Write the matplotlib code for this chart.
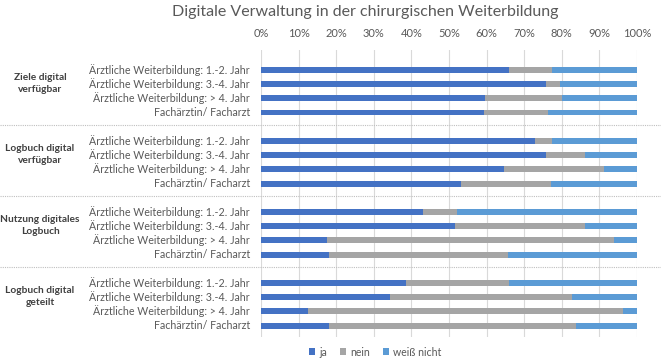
import matplotlib.pyplot as plt
import matplotlib.transforms as mtransforms
from matplotlib.patches import Patch

plt.rcParams['font.family'] = ['Lato', 'DejaVu Sans']

groups = ['Ziele digital\nverfügbar', 'Logbuch digital\nverfügbar',
          'Nutzung digitales\nLogbuch', 'Logbuch digital\ngeteilt']
rows = ['Ärztliche Weiterbildung: 1.-2. Jahr', 'Ärztliche Weiterbildung: 3.-4. Jahr',
        'Ärztliche Weiterbildung: > 4. Jahr', 'Fachärztin/ Facharzt']

# percent per group, one value per row
ja = [[66.0, 75.8, 59.6, 59.4],
      [72.9, 75.8, 64.5, 53.1],
      [43.2, 51.6, 17.6, 18.1],
      [38.6, 34.3, 12.4, 18.1]]
nein = [[11.3, 3.6, 20.4, 16.8],
        [4.4, 10.5, 26.7, 23.9],
        [9.0, 34.7, 76.2, 47.5],
        [27.4, 48.4, 84.0, 65.7]]
weiss = [[22.7, 20.6, 20.0, 23.8],
         [22.7, 13.7, 8.8, 23.0],
         [47.8, 13.7, 6.2, 34.4],
         [34.0, 17.3, 3.6, 16.2]]

series = ['ja', 'nein', 'weiß nicht']
colors = ['#4472C4', '#A5A5A5', '#5B9BD5']
txt = '#595959'

fig = plt.figure(figsize=(6.61, 3.63), dpi=100)
ax = fig.add_axes([261 / 661, 1 - 337 / 363, 376 / 661, 287 / 363])
blend = mtransforms.blended_transform_factory(fig.transFigure, ax.transData)

h = 0.42
for g in range(len(groups)):
    for r in range(len(rows)):
        y = 5 * g + r
        left = 0
        for vals, c in zip([ja, nein, weiss], colors):
            v = vals[g][r]
            ax.barh(y, v, left=left, height=h, color=c, zorder=3)
            left += v
        ax.text(-2.9, y, rows[r], ha='right', va='center', fontsize=7.7,
                color=txt)
    fig.text(40 / 661, 5 * g + 0.95, groups[g], ha='center', va='center',
             fontsize=7.3, color='#404040', fontweight='bold', linespacing=1.35,
             transform=blend)

ax.set_ylim(18.8, -1.4)
ax.set_xlim(0, 100)
ax.set_xticks(range(0, 101, 10))
ax.set_xticklabels([f'{t}%' for t in range(0, 101, 10)])
ax.xaxis.tick_top()
ax.tick_params(axis='x', length=0, pad=8, labelsize=8, labelcolor=txt)
ax.set_yticks([])
ax.grid(axis='x', color='#D9D9D9', linewidth=0.8, zorder=0)
for s in ax.spines.values():
    s.set_visible(False)

# dotted group separators across the whole width
for g in range(1, len(groups)):
    ax.plot([0, 1], [5 * g - 1.1] * 2, transform=blend, clip_on=False,
            color='#BFBFBF', linestyle=(0, (1, 1)), linewidth=0.8)

fig.text(365 / 661, 1 - 12 / 363, 'Digitale Verwaltung in der chirurgischen Weiterbildung',
         ha='center', va='center', fontsize=11.5, color=txt)

handles = [Patch(facecolor=c, label=s) for s, c in zip(series, colors)]
fig.legend(handles=handles, loc='center', bbox_to_anchor=(375 / 661, 1 - 352 / 363),
           ncol=3, frameon=False, fontsize=7.6, labelcolor=txt,
           handlelength=0.6, handleheight=0.6, handletextpad=0.4, columnspacing=1.2)

fig.savefig('out.png', dpi=100)
